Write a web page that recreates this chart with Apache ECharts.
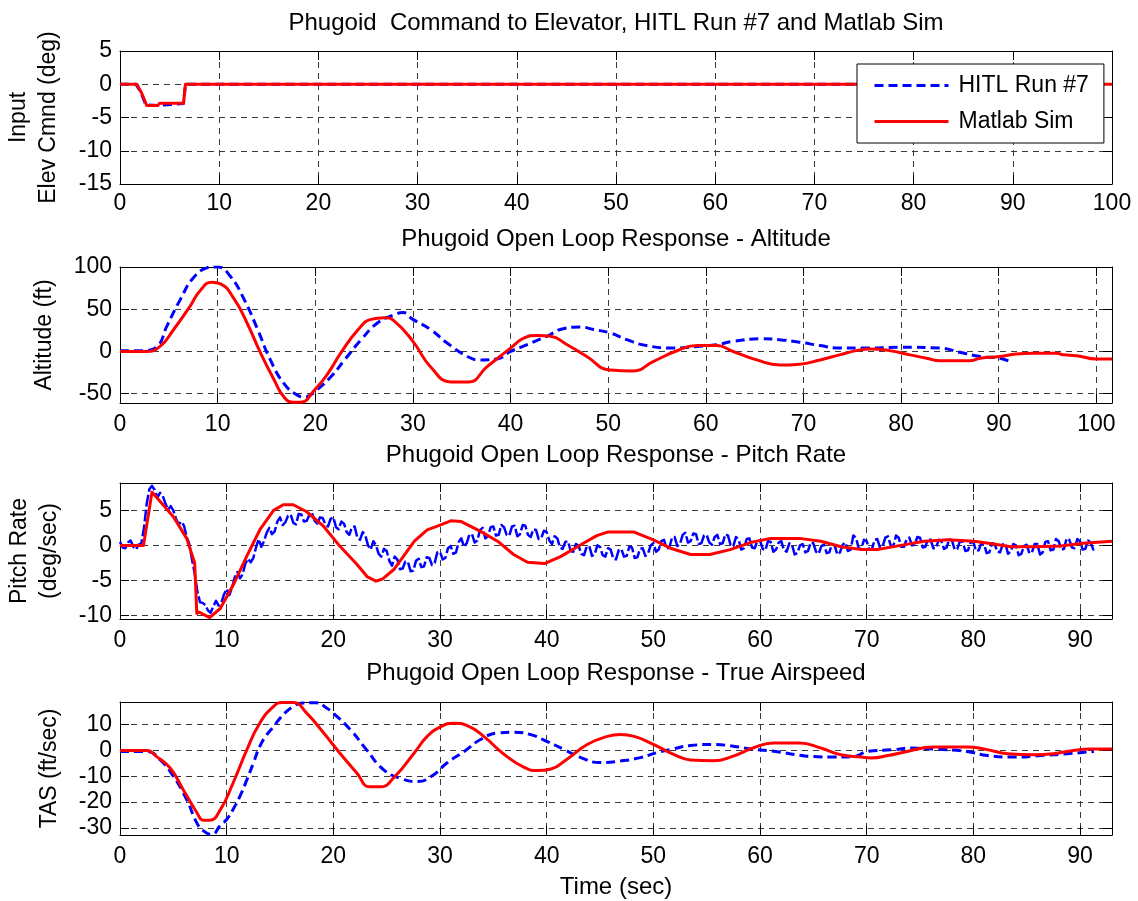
<!DOCTYPE html>
<html>
<head>
<meta charset="utf-8">
<title>Phugoid HITL vs Matlab Sim</title>
<script src="https://cdn.jsdelivr.net/npm/echarts@6/dist/echarts.min.js"></script>
<style>
  html, body { margin: 0; padding: 0; background: #fff; }
  #chart { width: 1138px; height: 901px; }
</style>
</head>
<body>
<div id="chart"></div>
<script>
// ---- Data: [time (sec), value] ----
// Elevator command (deg)
const elevHitl = [[0,0],[1.6,0],[2.1,-1.2],[2.6,-3.1],[3.8,-3.2],[4.0,-2.9],[6.4,-2.9],[6.6,0],[91.5,0]];
const elevSim  = [[0,0],[1.7,0],[2.2,-1.4],[2.7,-3.2],[3.8,-3.2],[4.0,-2.85],[6.4,-2.85],[6.6,0],[100,0]];

// Altitude (ft)
const altHitl = [[0,1],[2.4,1],[3.8,6],[4.8,30],[6.2,62],[7.5,87],[8.9,99],[9.5,100],[10,100],[11.3,89],
  [12.7,62],[14.1,26],[15.4,-10],[16.8,-38],[18.2,-52],[18.9,-54],[20.2,-45],[21.6,-30],[23,-10],[24.7,14],
  [26.4,34],[28,43],[29,46],[30,38],[31.8,26],[33.5,10],[35.6,-6],[36.9,-10],[38.6,-9],[40,0],
  [41.7,8],[43.7,18],[45.4,27],[47.1,29],[48.5,26],[50.2,22],[51.9,14],[53.9,7],[56.7,4],[59.1,6],
  [61.1,8],[62.8,12],[65.6,15],[67.5,14],[69.6,11],[71.7,7],[73.7,4],[76.4,4],[79.8,5],[84,4],
  [86,-1],[88.1,-6],[90.1,-8],[91.3,-13]];
const altSim = [[0,0],[2.7,0],[4.1,6],[5.5,26],[7.2,54],[8.2,72],[9.4,82],[10.3,80],[11.7,62],[13,34],
  [14.4,-2],[15.8,-34],[16.8,-54],[17.7,-60],[18.5,-60],[19.9,-46],[21.3,-26],[22.6,-2],[24.4,26],[25.7,38],
  [27.1,40],[28.1,36],[30,12],[31.8,-18],[33.9,-36],[35.7,-36],[37.6,-18],[40,4],[41.4,16],[42.7,19],
  [44.1,18],[45.8,8],[47.8,-6],[50.2,-22],[52.6,-23],[54.6,-12],[57.3,2],[59.1,7],[61.1,7],[62.8,0],
  [65.2,-10],[67.6,-16],[69.6,-15],[71.7,-10],[73.7,-4],[75.4,1],[76.8,3],[78.8,1],[80.9,-4],[82.6,-8],
  [84,-11],[87,-11],[88.1,-8],[90.1,-6],[91.8,-3],[93.5,-2],[95.9,-2],[96.6,-4],[98,-5],[100,-9],[101.6,-9]];

// Pitch rate (deg/sec); HITL samples every 0.25 s starting at t = 0 (one row per 10 s)
const pitchHitlStep = 0.25;
const pitchHitl = [
  0.5,-0.3,-0.4,0.4,0.7,-0.2,-0.6,0.1,0.3,2.5,5.9,8.0,8.5,7.9,6.8,7.5,7.1,6.0,5.1,5.6,
  5.0,3.8,3.0,3.4,2.8,1.2,0.2,-2.0,-4.0,-6.5,-8.1,-8.2,-8.5,-9.3,-9.6,-8.7,-7.9,-8.6,-8.2,-7.0,
  -6.2,-7.1,-6.1,-4.6,-3.8,-4.7,-4.1,-2.6,-1.9,-2.4,-1.8,-0.3,0.9,-0.2,0.6,1.8,2.5,1.6,2.0,3.4,
  4.0,2.9,3.3,4.2,4.4,3.2,3.0,4.5,4.4,3.4,3.5,4.3,4.6,3.5,3.1,4.0,3.9,3.0,2.7,3.8,
  4.0,2.6,2.3,3.4,3.1,1.9,1.5,2.6,2.7,1.1,0.8,1.9,1.4,0.0,-0.6,0.6,0.0,-1.2,-1.6,-0.5,
  -0.8,-2.2,-2.9,-1.6,-2.0,-3.4,-3.3,-2.3,-2.4,-3.7,-3.6,-2.2,-1.9,-3.1,-3.0,-1.7,-1.8,-2.8,-2.5,-1.0,
  -0.9,-2.0,-1.8,-0.4,-0.1,-1.2,-1.0,0.5,1.0,-0.2,0.3,1.5,1.6,0.4,0.7,2.2,2.5,1.0,1.3,2.6,
  2.7,1.4,1.5,2.9,2.6,1.5,1.4,2.7,2.8,1.3,1.6,2.9,2.8,1.5,1.2,2.3,2.2,0.9,1.1,2.1,
  1.9,0.7,0.2,1.3,1.0,-0.3,-0.5,0.5,0.6,-0.8,-0.9,0.2,-0.1,-1.2,-1.4,-0.2,-0.1,-1.5,-1.3,0.0,
  -0.2,-1.4,-1.6,-0.4,-0.6,-1.9,-2.0,-0.7,-0.5,-1.6,-1.5,-0.2,-0.3,-1.8,-1.7,-0.5,-0.4,-1.5,-1.2,0.0,
  0.3,-0.9,-0.6,0.6,0.8,-0.5,-0.3,1.1,1.2,-0.1,0.2,1.5,1.8,0.4,0.6,1.7,1.6,0.2,0.3,1.4,
  1.5,0.4,0.1,1.2,1.5,0.2,0.3,1.6,1.4,0.0,-0.1,1.2,0.8,-0.6,-0.4,0.9,1.0,-0.3,-0.4,0.6,
  0.7,-0.5,-0.7,0.6,0.5,-0.9,-0.6,0.4,0.6,-0.7,-0.9,0.3,0.1,-1.3,-1.1,0.0,0.2,-1.0,-0.8,0.4,
  0.3,-0.9,-1.2,-0.1,0.1,-1.1,-1.0,0.2,0.0,-1.3,-1.0,0.1,0.4,-0.8,-0.6,1.4,1.1,-0.4,-0.5,0.8,
  0.6,-0.6,-0.5,0.8,0.9,-0.3,-0.1,1.1,1.3,0.0,-0.1,1.4,1.1,-0.2,-0.2,0.9,1.1,0.0,0.1,1.2,
  1.1,-0.3,-0.2,0.9,0.8,-0.4,-0.4,0.8,0.6,-0.5,-0.3,0.9,0.7,-0.6,-0.5,0.6,0.5,-0.8,-0.7,0.4,
  0.5,-0.8,-0.7,0.3,0.2,-1.1,-1.0,0.3,0.2,-0.9,-1.0,0.1,0.3,-1.2,-0.9,0.2,0.0,-1.4,-1.2,-0.1,
  0.1,-1.1,-1.0,0.2,0.2,-1.3,-1.0,0.5,0.6,-0.7,-0.6,0.9,0.6,-0.6,-0.5,1.0,0.8,-0.3,-0.4,0.9,
  0.6,-0.6,-0.5,0.7,0.4,-0.6,-0.5];
const pitchSim = [[0,0],[2.2,0],[3.0,7.6],[3.4,6.9],[5.0,4.1],[6.25,1.0],[7.0,-2.5],[7.2,-9.7],[7.4,-9.5],[8.4,-10.3],
  [9.4,-9],[10.6,-5.7],[11.9,-1.5],[13.1,2.2],[14.4,5],[15.3,5.8],[16.25,5.8],[17.5,4.8],[19.1,2.7],[20.6,-0.1],
  [22.2,-2.7],[23.2,-4.5],[24.0,-5.1],[24.6,-4.8],[25.7,-3.4],[27.6,0.6],[28.8,2.2],[30,2.9],[31,3.5],[32,3.4],
  [33.8,2.0],[35.4,0.6],[36.9,-1.3],[38.2,-2.4],[39.8,-2.6],[41.3,-1.6],[43.2,0.1],[44.7,1.4],[45.7,1.9],[48.2,1.9],
  [50,0.8],[51.6,-0.4],[53.5,-1.3],[55.3,-1.3],[57.2,-0.6],[59.1,0.4],[61,1.0],[63.7,1.0],[65.7,0.6],[67.6,-0.2],
  [69.5,-0.6],[71,-0.6],[73.2,0],[75.4,0.6],[77.6,0.8],[80.1,0.6],[81.9,0.2],[83.5,-0.2],[85.7,-0.2],[88.2,-0.1],
  [90.3,0.3],[93,0.6]];

// True airspeed (ft/sec)
const tasHitl = [[0,-0.4],[2.5,-0.4],[3.75,-3.6],[5,-10],[6.25,-19],[7.2,-28],[7.8,-31],[8.6,-32.5],[9.4,-29],[10,-26.7],
  [10.6,-22.8],[11.25,-17.7],[11.9,-11.3],[12.5,-4.9],[13.1,1.5],[13.75,6],[14.4,9.2],[15,12.4],[15.6,15],[16.25,17],
  [16.9,18.2],[18.4,18.4],[19.4,16.3],[20,14.4],[21.6,8],[23.1,0.3],[24.7,-7.4],[26.4,-11],[27.9,-12],[29.2,-10],
  [30.7,-4.7],[32.3,-0.3],[33.8,4.2],[35.4,6.7],[36.9,7],[38.5,6.1],[40,3.5],[41.6,0.4],[43.2,-2.8],[45,-4.7],
  [46.9,-4.1],[48.8,-2.8],[50.3,-0.9],[51.9,0.6],[53.5,1.9],[55.6,2.3],[57.5,1.6],[59.4,0.4],[61.3,-0.3],[63.7,-1.9],
  [65,-2.4],[67,-2.6],[68.8,-2.3],[70.1,-0.4],[72.6,0.3],[74.1,0.9],[76.3,0.5],[79.4,-0.4],[81.3,-2],[83.8,-2.6],
  [86.3,-2],[88.8,-1.3],[91.3,-0.4]];
const tasSim = [[0,0],[2.5,0],[3.4,-2.3],[4.7,-6.8],[5.9,-15],[7.2,-24],[7.8,-27],[8.4,-27],[9.4,-23],[10.6,-12.6],
  [11.9,0.3],[13.1,10.5],[14.4,17],[15.2,18.5],[16.25,18.5],[17.5,14.4],[19.1,6.7],[20.6,-1],[22.2,-8.7],[23.4,-14.1],
  [24.4,-14.1],[25.7,-10.4],[27.6,-0.9],[28.8,5.4],[30,9],[31.3,10.5],[32.6,9.5],[34.1,5.4],[36,-1.5],[37.9,-6.6],
  [39.1,-7.8],[40.4,-7.2],[41.9,-3.4],[43.8,2.3],[45.7,5.4],[46.9,6.1],[48.2,5.4],[50,2.3],[51.9,-1.5],[53.5,-3.7],
  [55.6,-4],[57.5,-2.2],[59.4,1],[61.3,2.9],[63.7,2.9],[65.7,0.9],[67.6,-1.7],[69.5,-2.6],[70.4,-2.9],[72,-2],
  [73.8,-0.4],[76.3,1.3],[79.4,1.3],[81.3,0.3],[83.2,-1.3],[85.7,-1.7],[87.5,-1.3],[89.4,0],[91,0.5],[93,0.5]];

// Axis limits and tick steps for each subplot
const xLimits = [[0, 100], [0, 101.6], [0, 93], [0, 93]];
const yLimits = [[-15, 5], [-61, 100], [-10.5, 8.9], [-32.7, 18.7]];
const yTickSteps = [5, 50, 5, 10];
const ySplitCounts = [4, 3, 4, 5];
const xTickStep = 10;

// Text
const seriesNames = ['HITL Run #7', 'Matlab Sim'];
const mainTitle = 'Phugoid  Command to Elevator, HITL Run #7 and Matlab Sim';
const subTitles = ['Phugoid Open Loop Response - Altitude',
                   'Phugoid Open Loop Response - Pitch Rate',
                   'Phugoid Open Loop Response - True Airspeed'];
const yLabels = [['Input', 'Elev Cmnd (deg)'], ['Altitude (ft)'], ['Pitch Rate', '(deg/sec)'], ['TAS (ft/sec)']];
const xLabel = 'Time (sec)';

// ---- Layout ----
const FONT = '"Liberation Sans", Arial, Helvetica, sans-serif';
const PLOT_LEFT = 120, PLOT_WIDTH = 992;
const panelBoxes = [{ top: 51, height: 133 }, { top: 267, height: 136 }, { top: 483, height: 136 }, { top: 702, height: 133 }];
const BLUE = '#0000ff', RED = '#ff0000';
const GRID_STYLE = { color: '#3a3a3a', width: 1, type: [6, 5] };

const isMultiple = (v, step) => Math.abs(v / step - Math.round(v / step)) < 1e-6;

const grids = panelBoxes.map(b => ({ left: PLOT_LEFT, width: PLOT_WIDTH, top: b.top, height: b.height, containLabel: false }));

const axisLine = { show: true, onZero: false, lineStyle: { color: '#000', width: 1 } };
const tick = { show: true, inside: true, length: 9, lineStyle: { color: '#000', width: 1 } };
const labelStyle = { fontSize: 23, fontFamily: FONT, color: '#000' };

const xAxes = [], yAxes = [];
// bottom / left axes carry labels and grid lines
xLimits.forEach((lim, i) => {
  xAxes.push({
    type: 'value', gridIndex: i, position: 'bottom', min: lim[0], max: lim[1], interval: xTickStep,
    axisLine, axisTick: tick,
    axisLabel: Object.assign({ margin: i === 0 ? 8 : 10, formatter: v => isMultiple(v, xTickStep) ? String(v) : '' }, labelStyle),
    splitLine: { show: true, lineStyle: GRID_STYLE }
  });
});
yLimits.forEach((lim, i) => {
  yAxes.push({
    type: 'value', gridIndex: i, position: 'left', min: lim[0], max: lim[1], splitNumber: ySplitCounts[i],
    axisLine, axisTick: tick,
    axisLabel: Object.assign({ margin: 8, formatter: v => isMultiple(v, yTickSteps[i]) ? String(v) : '' }, labelStyle),
    splitLine: { show: true, lineStyle: GRID_STYLE }
  });
});
// top / right axes close the box and repeat the inward ticks
xLimits.forEach((lim, i) => {
  xAxes.push({
    type: 'value', gridIndex: i, position: 'top', min: lim[0], max: lim[1], interval: xTickStep,
    axisLine, axisTick: tick, axisLabel: { show: false }, splitLine: { show: false }
  });
});
yLimits.forEach((lim, i) => {
  yAxes.push({
    type: 'value', gridIndex: i, position: 'right', min: lim[0], max: lim[1], splitNumber: ySplitCounts[i],
    axisLine, axisTick: tick, axisLabel: { show: false }, splitLine: { show: false }
  });
});

function lineSeries(name, panel, data, color, opts) {
  opts = opts || {};
  return {
    name, type: 'line', xAxisIndex: panel, yAxisIndex: panel, data,
    symbol: 'none', showSymbol: false, silent: true, clip: true,
    smooth: opts.smooth || false,
    lineStyle: { color, width: opts.width || 3, type: opts.dash || 'solid', cap: 'butt', join: 'round' },
    itemStyle: { color }
  };
}

const pitchHitlPairs = pitchHitl.map((v, k) => [k * pitchHitlStep, v]);
const DASH = [9, 5];

const series = [
  lineSeries(seriesNames[0], 0, elevHitl, BLUE, { dash: DASH }),
  lineSeries(seriesNames[1], 0, elevSim, RED),
  lineSeries(seriesNames[0], 1, altHitl, BLUE, { dash: DASH, smooth: 0.5 }),
  lineSeries(seriesNames[1], 1, altSim, RED, { smooth: 0.5 }),
  lineSeries(seriesNames[0], 2, pitchHitlPairs, BLUE, { dash: [12, 3], width: 2.5 }),
  lineSeries(seriesNames[1], 2, pitchSim, RED),
  lineSeries(seriesNames[0], 3, tasHitl, BLUE, { dash: DASH, smooth: 0.5 }),
  lineSeries(seriesNames[1], 3, tasSim, RED, { smooth: 0.5 })
];

// Titles and axis names as text elements
const CENTER_X = PLOT_LEFT + PLOT_WIDTH / 2;
function txt(text, x, y, size, rotate) {
  return {
    type: 'text', x, y, rotation: rotate ? Math.PI / 2 : 0, z: 100, silent: true,
    style: { text, fontSize: size, fontFamily: FONT, fill: '#000',
             align: 'center', verticalAlign: 'middle', textAlign: 'center', textVerticalAlign: 'middle' }
  };
}
const titleY = [23, 239, 455, 673];
const graphics = [txt(mainTitle, CENTER_X, titleY[0], 24)];
subTitles.forEach((t, i) => graphics.push(txt(t, CENTER_X, titleY[i + 1], 24)));
graphics.push(txt(xLabel, CENTER_X, 887, 24));
const yLabelX = [[19, 49], [45], [20, 50], [50]];
yLabels.forEach((lines, i) => {
  const cy = panelBoxes[i].top + panelBoxes[i].height / 2;
  lines.forEach((line, j) => graphics.push(txt(line, yLabelX[i][j], cy, 23, true)));
});

const chart = echarts.init(document.getElementById('chart'), null, { renderer: 'canvas' });
chart.setOption({
  backgroundColor: '#fff',
  animation: false,
  grid: grids,
  xAxis: xAxes,
  yAxis: yAxes,
  legend: {
    data: seriesNames, selectedMode: false, orient: 'vertical',
    left: 857, top: 64, padding: [10, 15, 10, 16], itemGap: 13,
    itemWidth: 74, itemHeight: 20,
    backgroundColor: '#fff', borderColor: '#000', borderWidth: 1, borderRadius: 0,
    itemStyle: { opacity: 0 },
    lineStyle: { width: 3 },
    textStyle: { fontSize: 23, fontFamily: FONT, color: '#000', padding: [0, 0, 0, 5] }
  },
  series,
  graphic: graphics
});
</script>
</body>
</html>
